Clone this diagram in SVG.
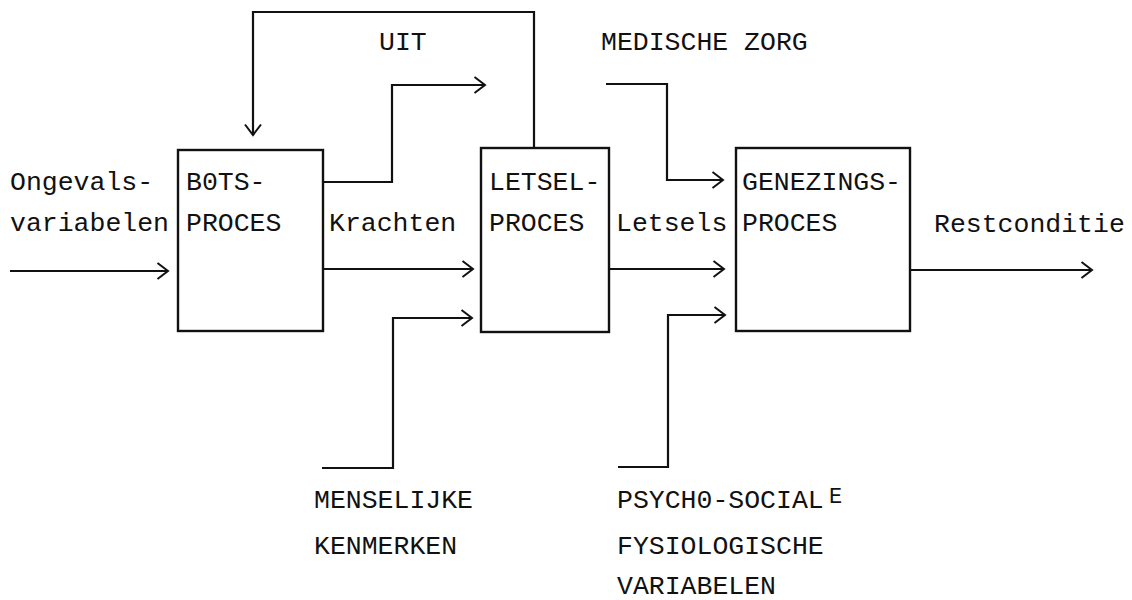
<svg xmlns="http://www.w3.org/2000/svg" width="1132" height="600" viewBox="0 0 1132 600">
<style>
.bg{fill:#ffffff}
.box{fill:none;stroke:#111;stroke-width:2.4}
.ln{fill:none;stroke:#111;stroke-width:2.2;stroke-linejoin:miter}
.t{font-family:"Liberation Mono","DejaVu Sans Mono",monospace;font-size:26.5px;fill:#111}
.sup{font-family:"Liberation Mono","DejaVu Sans Mono",monospace;font-size:22px;fill:#111}
</style>
<defs>
<marker id="ah" markerUnits="userSpaceOnUse" markerWidth="14" markerHeight="20" viewBox="0 0 14 20" refX="12" refY="10" orient="auto">
<path d="M1.5,2 L12,10 L1.5,18" fill="none" stroke="#111" stroke-width="2"/>
</marker>
</defs>
<rect class="bg" x="0" y="0" width="1132" height="600"/>
<g id="connectors">
<line class="ln" x1="10" y1="271" x2="168" y2="271" marker-end="url(#ah)"/>
<line class="ln" x1="323" y1="269" x2="473" y2="269" marker-end="url(#ah)"/>
<polyline class="ln" points="323,182 392,182 392,85 485,85" marker-end="url(#ah)"/>
<polyline class="ln" points="534,148 534,12 253,12 253,135" marker-end="url(#ah)"/>
<polyline class="ln" points="322,468 393,468 393,318 472,318" marker-end="url(#ah)"/>
<line class="ln" x1="609" y1="269" x2="724" y2="269" marker-end="url(#ah)"/>
<polyline class="ln" points="606,84 667,84 667,180 723,180" marker-end="url(#ah)"/>
<polyline class="ln" points="618,467 668,467 668,315 725,315" marker-end="url(#ah)"/>
<line class="ln" x1="910" y1="270" x2="1092" y2="270" marker-end="url(#ah)"/>
</g>
<g id="input-label">
<text class="t" x="10" y="190">Ongevals-</text>
<text class="t" x="10" y="231">variabelen</text>
</g>
<g id="bots">
<rect class="box" x="178" y="150" width="145" height="181"/>
<text class="t" x="186" y="190">B0TS-</text>
<text class="t" x="186" y="231">PROCES</text>
</g>
<g id="krachten-label">
<text class="t" x="329" y="231">Krachten</text>
</g>
<g id="letsel">
<rect class="box" x="481" y="148" width="128" height="184"/>
<text class="t" x="489" y="190">LETSEL-</text>
<text class="t" x="489" y="231">PROCES</text>
</g>
<g id="letsels-label">
<text class="t" x="616" y="231">Letsels</text>
</g>
<g id="genezing">
<rect class="box" x="736" y="148" width="174" height="183"/>
<text class="t" x="742" y="190">GENEZINGS-</text>
<text class="t" x="742" y="231">PROCES</text>
</g>
<g id="restconditie-label">
<text class="t" x="934" y="232">Restconditie</text>
</g>
<g id="uit-label">
<text class="t" x="379" y="50">UIT</text>
</g>
<g id="medische-label">
<text class="t" x="601" y="50">MEDISCHE ZORG</text>
</g>
<g id="menselijke-label">
<text class="t" x="314" y="508">MENSELIJKE</text>
<text class="t" x="314" y="554">KENMERKEN</text>
</g>
<g id="psycho-label">
<text class="t" x="617" y="508">PSYCH0-SOCIAL</text>
<text class="sup" x="829" y="503">E</text>
<text class="t" x="617" y="554">FYSIOLOGISCHE</text>
<text class="t" x="617" y="594">VARIABELEN</text>
</g>
</svg>
